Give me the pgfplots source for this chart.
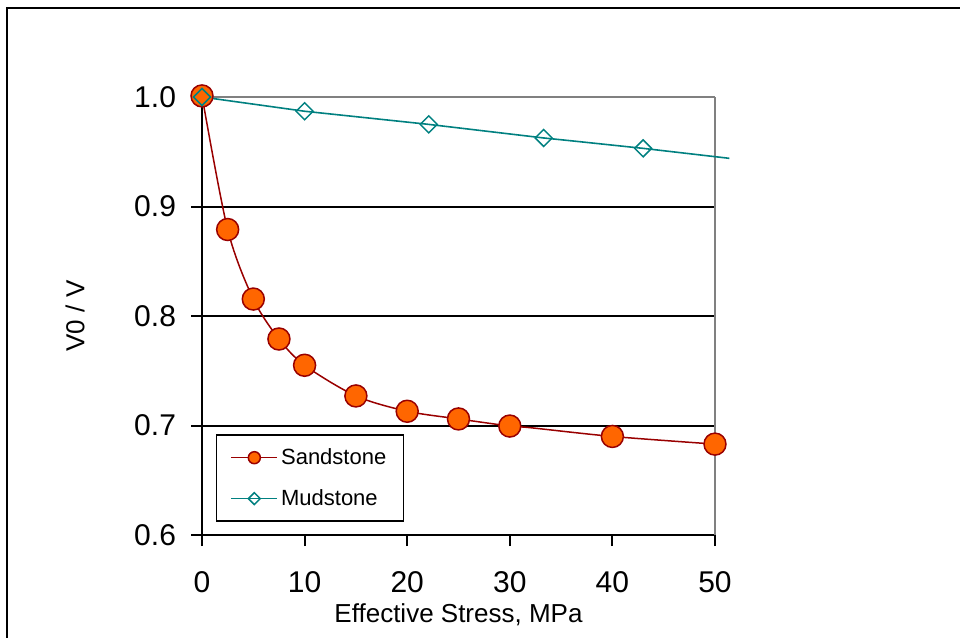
\documentclass[border=0pt]{standalone}
\usepackage{pgfplots}
\pgfplotsset{compat=1.18}
\usepackage{fontspec}
\setmainfont{Liberation Sans}
\definecolor{sandfill}{HTML}{FF6600}
\definecolor{sandline}{HTML}{990000}
\definecolor{mud}{HTML}{008080}
\definecolor{axgray}{HTML}{808080}
\begin{document}
\begin{tikzpicture}
\useasboundingbox (0,0) rectangle (480pt,319pt);
\draw[line width=1pt] (3.25pt,0) -- (3.25pt,314.75pt) -- (480pt,314.75pt);
\begin{axis}[
  at={(101pt,51.5pt)}, anchor=south west,
  scale only axis, width=256.5pt, height=219pt,
  xmin=0, xmax=50, ymin=0.6, ymax=1.0,
  xtick={0,10,20,30,40,50}, ytick={0.6,0.7,0.8,0.9,1.0},
  axis lines=left, axis line style={-, black, line width=1pt},
  tick align=outside, major tick length=5.5pt,
  tick style={black, line width=1pt},
  ymajorgrids, grid style={black, line width=1pt},
  /pgf/number format/assume math mode=true,
  yticklabel style={/pgf/number format/fixed, /pgf/number format/fixed zerofill, /pgf/number format/precision=1, font=\fontsize{15}{18}\selectfont, xshift=-4pt},
  xticklabel style={font=\fontsize{15}{18}\selectfont, yshift=-9pt},
  xlabel={Effective Stress, MPa}, ylabel={V0 / V},
  xlabel style={font=\fontsize{13}{15}\selectfont, at={(axis description cs:0.5,-0.1826)}, anchor=center},
  ylabel style={font=\fontsize{13}{15}\selectfont, at={(axis description cs:-0.2476,0.5)}, anchor=center},
  clip=false,
  legend style={at={(0.027,0.03)}, anchor=south west, draw=black, line width=0.75pt, font=\fontsize{11}{13}\selectfont, row sep=7pt, inner xsep=7pt, inner ysep=4.5pt, nodes={inner xsep=1.5pt}},
  legend cell align=left,
  legend image code/.code={\draw[mark repeat=2, mark phase=2, #1] plot coordinates {(0pt,0pt)(11.5pt,0pt)(23pt,0pt)};},
]
\draw[axgray, line width=1pt] (rel axis cs:0,1) -- (rel axis cs:1,1);
\draw[axgray, line width=0.75pt] (rel axis cs:1,1) -- (rel axis cs:1,0);
\addlegendimage{sandline, line width=0.75pt, mark=*, mark size=3pt, mark options={fill=sandfill, draw=sandline}}
\addlegendentry{Sandstone}
\addlegendimage{mud, line width=0.75pt, mark=square, mark size=2.1pt, mark options={rotate=45, fill=white, draw=mud}}
\addlegendentry{Mudstone}
\addplot[sandline, line width=0.75pt, smooth, tension=0.5, forget plot] coordinates {
(0,1.001) (2.5,0.879) (5,0.8155) (7.5,0.779) (10,0.755) (15,0.727) (20,0.713) (25,0.706) (30,0.6995) (32,0.698) (40,0.690) (50,0.683)};
\addplot[only marks, mark=*, mark size=5.5pt, mark options={fill=sandfill, draw=sandline, line width=0.75pt}, forget plot] coordinates {
(0,1.001) (2.5,0.879) (5,0.8155) (7.5,0.779) (10,0.755) (15,0.727) (20,0.713) (25,0.706) (30,0.6995) (40,0.690) (50,0.683)};
\addplot[mud, line width=0.8pt, forget plot] coordinates {
(0,1.0) (10,0.987) (22.1,0.975) (33.3,0.9626) (36,0.960) (43,0.9531) (51.4,0.944)};
\addplot[only marks, mark=square, mark size=3pt, mark options={rotate=45, fill=white, draw=mud, line width=0.75pt}, forget plot] coordinates {
(0,1.0) (10,0.987) (22.1,0.975) (33.3,0.9626) (43,0.9531)};
\end{axis}
\end{tikzpicture}
\end{document}
